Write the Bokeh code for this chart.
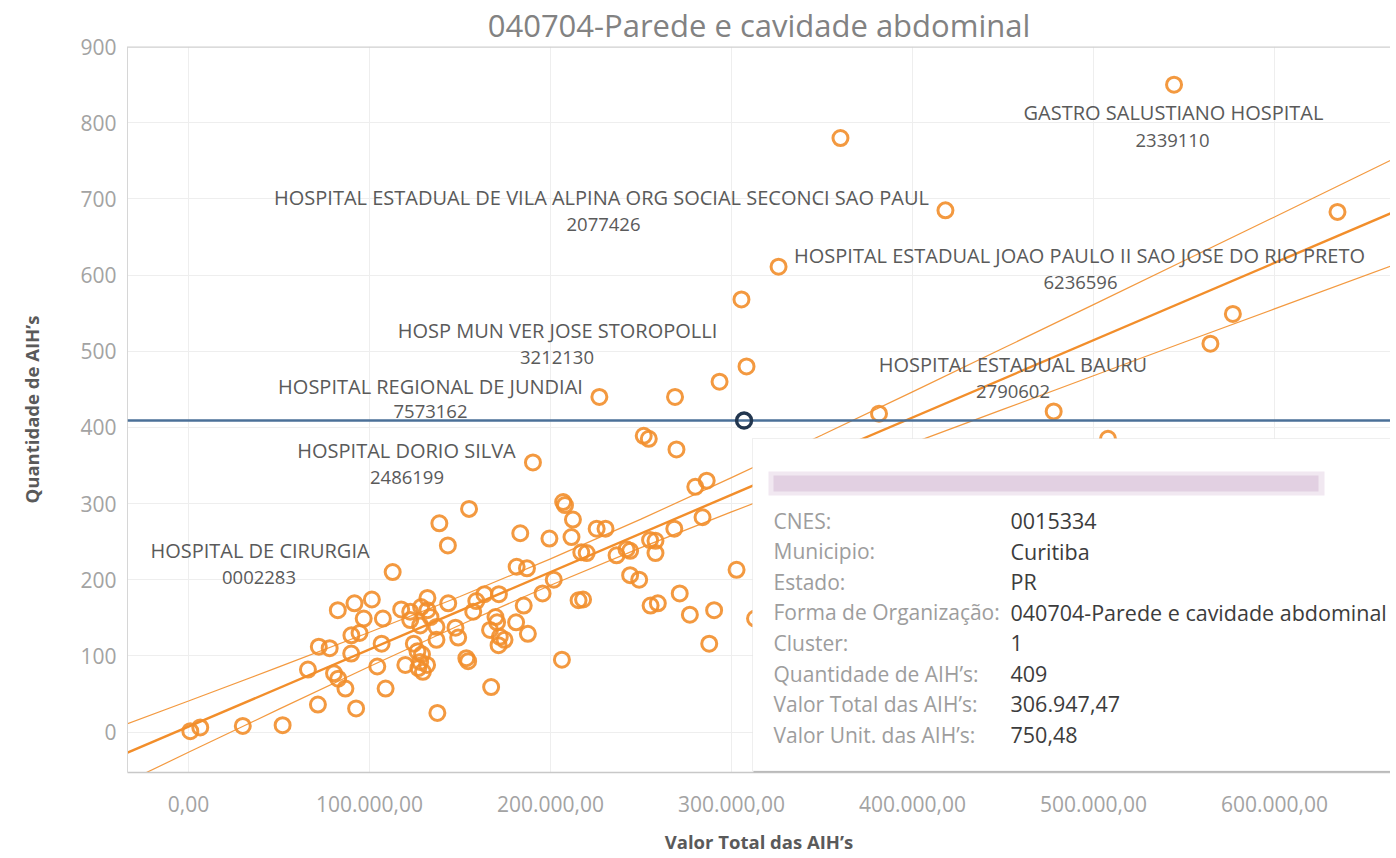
from bokeh.plotting import figure
from bokeh.models import Range1d, FixedTicker, Span, BoxAnnotation, Label
from bokeh.embed import file_html
from bokeh.resources import INLINE

# ---------------- data ----------------
valor_total = [1000, 6500, 30000, 52000, 71500, 66000, 72000, 78000, 82500, 91700,
               101300, 112800, 138600, 143300, 155000, 190300, 80400, 82700, 86700, 92600,
               108900, 104300, 89900, 90000, 94500, 96800, 107400, 106700, 117500, 119800,
               122500, 124500, 126500, 129000, 128000, 131800, 127000, 129500, 122500, 128500,
               132000, 132000, 128000, 133700, 143500, 137000, 137000, 147500, 149000, 153500,
               154500, 137500, 157300, 159000, 163500, 171500, 169600, 170500, 166600, 172000,
               174600, 171300, 167200, 181000, 185200, 187500, 181300, 187000, 183300, 195600,
               201800, 206300, 199400, 207000, 208000, 212400, 211600, 215500, 218000, 217000,
               220000, 225500, 230400, 236500, 242000, 244000, 244000, 249000, 255000, 258000,
               258000, 255300, 259300, 268400, 271400, 277000, 280000, 286300, 284000, 290400,
               287700, 269600, 251500, 254300, 227000, 268800, 293400, 308300, 305500, 326000,
               360200, 418200, 381500, 302800, 313000, 478000, 508000, 564600, 577000, 634800,
               544500]
quantidade = [1, 6, 8, 9, 36, 82, 112, 110, 160, 169,
              174, 210, 274, 245, 293, 354, 77, 70, 57, 31,
              57, 86, 103, 127, 130, 149, 149, 116, 161, 88,
              147, 116, 106, 102, 92, 88, 84, 79, 158, 164,
              160, 176, 140, 151, 169, 138, 121, 137, 124, 97,
              93, 25, 158, 172, 181, 181, 151, 144, 134, 125,
              121, 114, 59, 144, 166, 129, 217, 215, 261, 182,
              200, 95, 254, 302, 298, 279, 256, 173, 174, 236,
              235, 267, 267, 232, 240, 238, 206, 200, 252, 251,
              235, 166, 169, 267, 182, 154, 322, 330, 282, 160,
              116, 371, 389, 385, 440, 440, 460, 480, 568, 611,
              780, 685, 418, 213, 149, 421, 385, 510, 549, 683,
              850]
assert len(valor_total) == len(quantidade)

destaque_valor = [306947.47]
destaque_qtd = [409]

trend_x = [-34000, 665000]
trend_y = [-27.5, 682.0]

band_x = [-34000, 0, 50000, 100000, 150000, 200000, 250000, 300000, 350000,
          400000, 450000, 500000, 550000, 600000, 665000]
band_upper = [10.5, 40.7, 85.5, 131.0, 178.0, 227.3, 279.5, 334.0, 390.0,
              446.7, 503.9, 561.2, 618.8, 676.4, 751.8]
band_lower = [-65.5, -26.7, 30.0, 86.0, 140.6, 192.7, 242.1, 289.0, 334.6,
              379.3, 423.7, 467.8, 511.8, 555.6, 612.5]

x_ticks = [0, 100000, 200000, 300000, 400000, 500000, 600000]
x_tick_labels = ["0,00", "100.000,00", "200.000,00", "300.000,00",
                 "400.000,00", "500.000,00", "600.000,00"]
y_ticks = [0, 100, 200, 300, 400, 500, 600, 700, 800, 900]

hospital_names = ["GASTRO SALUSTIANO HOSPITAL",
                  "HOSPITAL ESTADUAL DE VILA ALPINA ORG SOCIAL SECONCI SAO PAUL",
                  "HOSPITAL ESTADUAL JOAO PAULO II SAO JOSE DO RIO PRETO",
                  "HOSP MUN VER JOSE STOROPOLLI",
                  "HOSPITAL REGIONAL DE JUNDIAI",
                  "HOSPITAL ESTADUAL BAURU",
                  "HOSPITAL DORIO SILVA",
                  "HOSPITAL DE CIRURGIA"]
hospital_cnes = ["2339110", "2077426", "6236596", "3212130",
                 "7573162", "2790602", "2486199", "0002283"]

tooltip_fields = ["CNES:", "Municipio:", "Estado:", "Forma de Organização:", "Cluster:",
                  "Quantidade de AIH’s:", "Valor Total das AIH’s:", "Valor Unit. das AIH’s:"]
tooltip_values = ["0015334", "Curitiba", "PR", "040704-Parede e cavidade abdominal", "1",
                  "409", "306.947,47", "750,48"]

# ---------------- layout helpers (reference pixels -> data) ----------------
X0_PX, X_SCALE = 188.0, 181.0 / 100000.0
Y0_PX, Y_SCALE = 731.5, 0.7615


def X(px):
    return (px - X0_PX) / X_SCALE


def Y(py):
    return (Y0_PX - py) / Y_SCALE


label_layout_px = [
    (1173, 112, 1172, 139.5),
    (601, 197, 603, 224),
    (1079, 254.5, 1080, 281.5),
    (557, 329.5, 556.5, 356.5),
    (430, 386, 430, 411),
    (1012.5, 364, 1012.5, 390.5),
    (406, 449.5, 406.5, 476.5),
    (259.5, 550, 258.5, 576.5),
]

FONT = "Open Sans"
ORANGE = "#f28e2b"

W, H = 1390, 856
LEFT, TOP, BOTTOM = 127, 46, 772

p = figure(width=W, height=H, output_backend="svg", toolbar_location=None,
           x_range=Range1d(X(LEFT), X(W)), y_range=Range1d(Y(BOTTOM), Y(TOP)),
           min_border_left=LEFT, min_border_right=0, min_border_top=TOP,
           min_border_bottom=H - BOTTOM,
           title="040704-Parede e cavidade abdominal")
p.outline_line_color = None
p.background_fill_color = "white"
p.border_fill_color = "white"

p.title.align = "center"
p.title.text_font = FONT
p.title.text_font_size = "31px"
p.title.text_font_style = "normal"
p.title.text_color = "#828282"
p.title.standoff = 2

# axes
for ax in (p.xaxis[0], p.yaxis[0]):
    ax.major_tick_line_color = None
    ax.minor_tick_line_color = None
    ax.major_tick_out = 0
    ax.major_tick_in = 0
    ax.major_label_text_font = FONT
    ax.major_label_text_font_size = "21px"
    ax.major_label_text_color = "#a3a3a3"
    ax.axis_label_text_font = FONT
    ax.axis_label_text_font_size = "18.5px"
    ax.axis_label_text_font_style = "bold"
    ax.axis_label_text_color = "#5a5a5a"

p.xaxis.ticker = FixedTicker(ticks=x_ticks)
p.xaxis.major_label_overrides = dict(zip(x_ticks, x_tick_labels))
p.xaxis.axis_label = "Valor Total das AIH’s"
p.xaxis.axis_line_color = "#c8c8c8"
p.xaxis.axis_line_width = 1.5
p.xaxis.major_label_standoff = 23
p.xaxis.axis_label_standoff = 14

p.yaxis.ticker = FixedTicker(ticks=y_ticks)
p.yaxis.axis_label = "Quantidade de AIH’s"
p.yaxis.axis_line_color = "#d6d6d6"
p.yaxis.major_label_standoff = 11
p.yaxis.axis_label_standoff = 33

p.xgrid.ticker = FixedTicker(ticks=x_ticks)
p.ygrid.ticker = FixedTicker(ticks=y_ticks)
p.xgrid.grid_line_color = "#eeeeee"
p.ygrid.grid_line_color = "#eeeeee"

# top border line of the pane
p.add_layout(Span(location=Y(TOP + 0.5), dimension="width", line_color="#cfcfcf",
                  line_width=1.5))

# trend line + confidence bands
p.line(band_x, band_upper, line_color=ORANGE, line_width=1.2, line_alpha=0.9)
p.line(band_x, band_lower, line_color=ORANGE, line_width=1.2, line_alpha=0.9)
p.line(trend_x, trend_y, line_color=ORANGE, line_width=2.4)

# points
p.scatter(valor_total, quantidade, marker="circle", size=15, fill_color=None,
          line_color=ORANGE, line_width=3, line_alpha=0.9)

# hover reference line + highlighted point
p.add_layout(Span(location=destaque_qtd[0], dimension="width",
                  line_color="#4b7098", line_width=2.6))
hl = p.scatter(destaque_valor, destaque_qtd, marker="circle", size=15, fill_color=None,
               line_color="#22364f", line_width=3.4)
hl.level = "overlay"

# hospital labels
for name, code, (cx, cy, cx2, cy2) in zip(hospital_names, hospital_cnes, label_layout_px):
    p.add_layout(Label(x=X(cx), y=Y(cy), text=name, text_align="center",
                       text_baseline="middle", text_font=FONT, text_font_size="20px",
                       text_color="#5a5a5a"))
    p.add_layout(Label(x=X(cx2), y=Y(cy2), text=code, text_align="center",
                       text_baseline="middle", text_font=FONT, text_font_size="18.5px",
                       text_color="#5a5a5a"))

# tooltip
p.add_layout(BoxAnnotation(left=X(753), right=X(1420), top=Y(770), bottom=Y(774),
                           fill_color="#b8b8b8", fill_alpha=1, line_color=None))
p.add_layout(BoxAnnotation(left=X(752), right=X(1420), top=Y(438), bottom=Y(770.5),
                           fill_color="white", fill_alpha=1, line_color="#cbcbcb",
                           line_width=1))
p.add_layout(BoxAnnotation(left=X(768), right=X(1324), top=Y(471), bottom=Y(495),
                           fill_color="#f1e8f1", fill_alpha=1, line_color=None))
p.add_layout(BoxAnnotation(left=X(773), right=X(1318), top=Y(475), bottom=Y(491),
                           fill_color="#e2d0e2", fill_alpha=1, line_color=None))
row_y = [520, 550.6, 581.2, 611.8, 642.4, 673, 703.6, 734.2]
for fld, val, ry in zip(tooltip_fields, tooltip_values, row_y):
    p.add_layout(Label(x=X(773), y=Y(ry), text=fld, text_align="left", text_baseline="middle",
                       text_font=FONT, text_font_size="21px", text_color="#9d9d9d"))
    p.add_layout(Label(x=X(1010), y=Y(ry), text=val, text_align="left", text_baseline="middle",
                       text_font=FONT, text_font_size="21.5px", text_color="#3c3c3c"))

open("out.html", "w").write(file_html(p, INLINE))
